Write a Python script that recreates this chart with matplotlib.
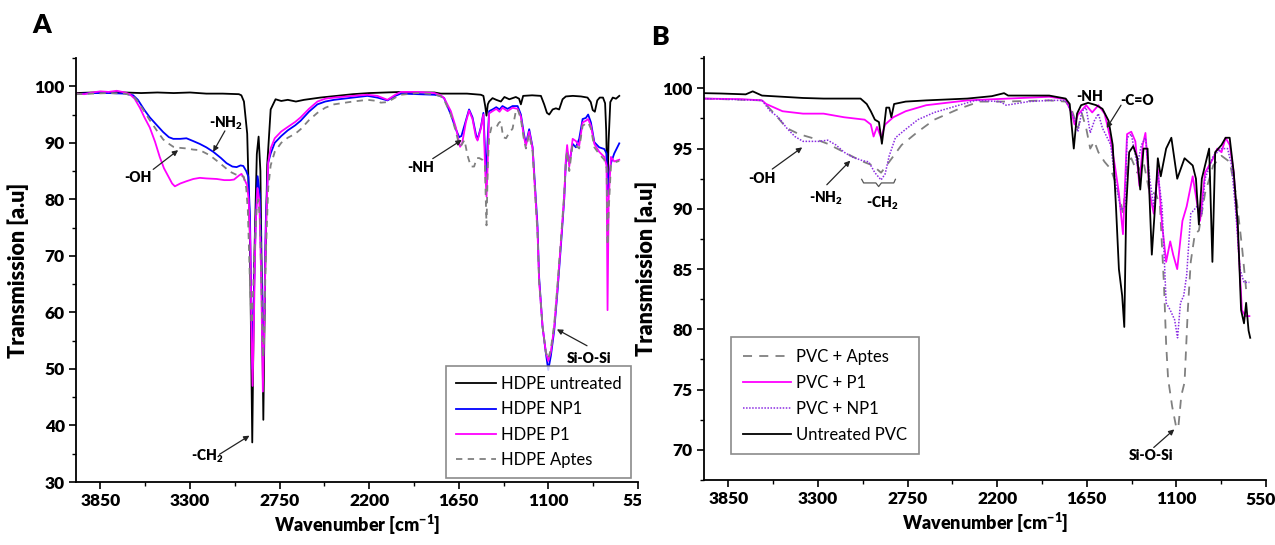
import matplotlib
matplotlib.use('Agg')
import matplotlib.pyplot as plt
from matplotlib.ticker import MultipleLocator, FuncFormatter
from matplotlib.patches import Rectangle

plt.rcParams['font.family'] = ['Lato', 'DejaVu Sans']
plt.rcParams['font.weight'] = 'heavy'
plt.rcParams['axes.labelweight'] = 'heavy'
plt.rcParams['mathtext.fontset'] = 'custom'
plt.rcParams['mathtext.bf'] = 'Lato:heavy'
plt.rcParams['mathtext.rm'] = 'Lato:heavy'
plt.rcParams['mathtext.default'] = 'bf'

# ---------------- Panel A: HDPE ----------------
hdpe_untreated_wn = [4000, 3900, 3800, 3701, 3600, 3500, 3400, 3300, 3200, 3100, 3000, 2985, 2969, 2949, 2933,
                     2918, 2905, 2890, 2879, 2868, 2858, 2850, 2840, 2826, 2805, 2775, 2740, 2700, 2650, 2600,
                     2500, 2400, 2300, 2200, 2100, 2000, 1900, 1800, 1761, 1600, 1515, 1499, 1488, 1480, 1472,
                     1464, 1443, 1420, 1392, 1370, 1340, 1300, 1280, 1269, 1255, 1200, 1146, 1126, 1109, 1095,
                     1074, 1054, 1034, 1013, 993, 950, 900, 860, 840, 828, 815, 800, 785, 765, 752, 745, 738,
                     731, 720, 705, 685, 665]
hdpe_untreated_t = [98.8, 98.9, 99.0, 98.9, 98.8, 98.9, 98.8, 98.9, 98.7, 98.7, 98.6, 98.4, 97.3, 91.6, 74.3,
                    37.0, 70.0, 88.0, 91.1, 85.0, 62.0, 41.0, 65.0, 86.1, 95.9, 97.7, 97.4, 97.6, 97.3, 97.6,
                    98.0, 98.3, 98.6, 98.8, 98.9, 99.0, 98.9, 98.9, 98.7, 98.7, 98.5, 98.3, 96.5, 94.8, 96.8,
                    97.3, 97.9, 97.6, 97.3, 98.1, 97.7, 98.1, 97.8, 96.8, 98.3, 98.4, 98.3, 96.8, 95.3, 95.0,
                    95.9, 96.1, 95.9, 97.7, 98.2, 98.3, 98.2, 98.0, 97.2, 95.8, 95.5, 97.5, 98.0, 98.0, 97.0,
                    92.0, 81.0, 90.0, 97.2, 98.0, 97.8, 98.3]

hdpe_np1_wn = [4000, 3900, 3800, 3700, 3649, 3620, 3580, 3547, 3500, 3465, 3430, 3403, 3360, 3322, 3280, 3240,
               3200, 3157, 3110, 3076, 3040, 3014, 2990, 2973, 2955, 2942, 2932, 2924, 2918, 2910, 2897, 2885,
               2872, 2862, 2852, 2845, 2835, 2820, 2805, 2780, 2740, 2700, 2654, 2621, 2570, 2518, 2470, 2416,
               2300, 2211, 2150, 2088, 2040, 2006, 1900, 1800, 1761, 1740, 1699, 1668, 1648, 1634, 1607, 1587,
               1566, 1545, 1535, 1515, 1499, 1488, 1480, 1474, 1464, 1443, 1420, 1400, 1382, 1351, 1320, 1289,
               1269, 1250, 1238, 1218, 1197, 1187, 1167, 1157, 1136, 1116, 1101, 1085, 1064, 1044, 1023, 1003,
               993, 985, 972, 951, 931, 911, 890, 870, 856, 839, 818, 788, 757, 743, 737, 730, 716, 696, 665]
hdpe_np1_t = [98.6, 98.8, 98.8, 98.7, 98.4, 97.6, 95.8, 94.5, 93.0, 91.9, 91.0, 90.7, 90.7, 90.8, 90.3, 89.8,
              89.2, 88.4, 87.3, 86.4, 85.8, 85.7, 86.0, 85.9, 85.0, 84.0, 77.0, 62.0, 50.0, 60.0, 76.0, 84.1,
              81.0, 68.0, 50.0, 58.0, 76.0, 86.5, 88.1, 90.0, 91.2, 92.2, 93.1, 93.9, 95.5, 96.8, 97.3, 97.6,
              98.0, 98.3, 98.0, 97.5, 98.3, 98.7, 98.6, 98.5, 98.3, 97.9, 95.0, 92.4, 91.0, 91.2, 93.9, 95.9,
              94.5, 91.5, 90.6, 92.7, 95.3, 88.0, 84.0, 90.0, 95.6, 95.9, 96.3, 95.9, 96.5, 96.0, 96.5, 96.5,
              95.0, 91.5, 89.8, 92.4, 89.2, 84.6, 75.4, 66.2, 57.5, 52.9, 49.8, 52.3, 56.9, 63.8, 71.9, 80.0,
              86.5, 88.5, 86.4, 89.8, 89.2, 90.7, 94.2, 94.4, 95.0, 93.6, 90.1, 89.2, 88.9, 88.1, 80.6, 84.0,
              86.4, 88.1, 89.9]

hdpe_p1_wn = [4000, 3950, 3900, 3850, 3800, 3750, 3700, 3670, 3640, 3608, 3580, 3547, 3515, 3486, 3460, 3434,
              3410, 3393, 3360, 3322, 3280, 3240, 3200, 3136, 3090, 3055, 3030, 3000, 2984, 2970, 2950, 2940,
              2930, 2922, 2916, 2910, 2898, 2886, 2875, 2863, 2853, 2846, 2835, 2820, 2805, 2780, 2740, 2700,
              2654, 2621, 2570, 2518, 2470, 2416, 2300, 2211, 2150, 2088, 2040, 2006, 1900, 1800, 1761, 1740,
              1699, 1668, 1642, 1630, 1607, 1587, 1566, 1545, 1535, 1515, 1499, 1488, 1480, 1474, 1464, 1443,
              1420, 1400, 1382, 1351, 1320, 1289, 1269, 1250, 1238, 1218, 1197, 1187, 1167, 1157, 1136, 1116,
              1101, 1085, 1064, 1044, 1023, 1003, 993, 985, 972, 951, 931, 911, 890, 870, 856, 839, 818, 788,
              757, 743, 737, 730, 716, 696, 665]
hdpe_p1_t = [98.7, 98.6, 98.9, 99.1, 99.0, 99.2, 98.9, 98.6, 97.8, 96.2, 94.5, 92.7, 90.2, 87.5, 85.5, 84.1,
             82.8, 82.3, 82.8, 83.2, 83.6, 83.8, 83.7, 83.6, 83.4, 83.4, 83.5, 84.2, 84.5, 83.8, 82.5, 80.0,
             72.0, 55.0, 47.0, 55.0, 75.0, 82.0, 80.0, 66.0, 46.0, 55.0, 74.0, 86.5, 89.0, 90.8, 92.0, 92.8,
             93.7, 94.5, 96.0, 97.3, 97.8, 98.0, 98.3, 98.5, 98.3, 97.6, 98.5, 99.0, 99.0, 98.8, 98.4, 97.9,
             95.6, 92.7, 89.3, 89.8, 93.6, 95.7, 94.2, 91.0, 90.4, 92.5, 95.0, 85.0, 80.5, 85.0, 95.2, 95.6,
             96.0, 95.5, 96.2, 95.6, 96.2, 96.0, 94.6, 91.0, 89.5, 92.0, 89.0, 84.0, 74.5, 65.5, 57.5, 53.0,
             51.4, 53.0, 57.5, 64.5, 72.5, 80.5, 87.0, 89.6, 85.8, 90.7, 90.3, 89.5, 93.6, 93.9, 94.2, 93.0,
             89.8, 88.4, 87.5, 86.0, 60.4, 80.0, 87.5, 86.7, 87.0]

hdpe_aptes_wn = [4000, 3900, 3800, 3700, 3649, 3620, 3580, 3547, 3500, 3465, 3444, 3403, 3360, 3322, 3280, 3240,
                 3179, 3117, 3055, 3020, 2994, 2970, 2955, 2945, 2932, 2922, 2915, 2905, 2890, 2880, 2870, 2860,
                 2852, 2845, 2835, 2820, 2805, 2780, 2740, 2700, 2654, 2621, 2570, 2518, 2470, 2416, 2300, 2211,
                 2150, 2129, 2088, 2040, 2006, 1900, 1800, 1761, 1740, 1699, 1668, 1648, 1634, 1615, 1597, 1576,
                 1556, 1540, 1525, 1505, 1490, 1480, 1472, 1464, 1450, 1420, 1405, 1392, 1378, 1360, 1340, 1320,
                 1300, 1289, 1269, 1250, 1238, 1218, 1197, 1187, 1167, 1157, 1136, 1116, 1101, 1085, 1064, 1044,
                 1023, 1003, 993, 985, 972, 951, 931, 911, 890, 870, 856, 839, 818, 788, 757, 743, 737, 730, 716,
                 696, 665]
hdpe_aptes_t = [98.6, 98.7, 98.8, 98.7, 98.3, 97.3, 95.5, 94.0, 92.0, 90.6, 90.1, 89.3, 89.1, 89.0, 88.8, 88.7,
                87.8, 86.4, 84.9, 84.4, 84.3, 84.0, 82.0, 78.0, 65.0, 58.0, 62.0, 70.0, 79.0, 80.0, 76.0, 62.0,
                52.0, 56.0, 70.0, 82.0, 86.0, 88.4, 90.0, 90.9, 91.6, 92.4, 94.0, 95.3, 96.2, 96.8, 97.3, 97.6,
                97.4, 97.1, 97.2, 98.0, 98.5, 98.8, 98.6, 98.2, 97.6, 95.0, 92.0, 89.6, 89.6, 90.5, 87.8, 85.8,
                85.8, 87.3, 87.3, 87.0, 86.0, 75.4, 86.0, 91.0, 92.7, 92.7, 93.5, 93.8, 91.0, 90.8, 91.8, 92.5,
                95.6, 96.0, 94.2, 90.5, 89.0, 91.5, 88.5, 83.5, 74.0, 65.5, 57.5, 53.0, 51.8, 53.5, 58.0, 65.0,
                73.0, 81.0, 86.5, 88.5, 85.0, 89.8, 89.5, 89.0, 93.0, 93.4, 93.6, 92.5, 89.2, 88.0, 87.0, 85.5,
                71.9, 78.0, 86.0, 86.5, 86.8]

# ---------------- Panel B: PVC ----------------
pvc_aptes_wn = [4000, 3644, 3568, 3492, 3417, 3341, 3241, 3140, 3039, 2964, 2913, 2863, 2787, 2687, 2586, 2435,
                2309, 2158, 1881, 1780, 1742, 1705, 1680, 1654, 1629, 1604, 1579, 1541, 1503, 1466, 1428, 1403,
                1377, 1340, 1302, 1264, 1226, 1201, 1176, 1163, 1151, 1126, 1100, 1088, 1070, 1050, 1030, 1012,
                987, 962, 924, 874, 823, 773, 735, 697, 672, 652]
pvc_aptes_t = [99.15, 99.0, 97.9, 96.7, 96.2, 95.9, 95.4, 94.7, 94.0, 93.6, 93.0, 93.9, 95.3, 96.4, 97.4, 98.3,
               98.9, 98.9, 99.0, 98.9, 98.2, 96.7, 97.9, 96.7, 95.0, 95.6, 94.7, 93.9, 93.3, 91.9, 89.6, 93.6,
               94.2, 93.0, 93.9, 91.3, 91.3, 90.2, 83.6, 78.8, 75.9, 73.6, 71.8, 71.9, 74.5, 75.6, 81.6, 85.6,
               87.9, 88.2, 91.3, 93.6, 94.4, 93.9, 91.3, 86.8, 83.3, 83.6]

pvc_p1_wn = [4000, 3769, 3644, 3618, 3518, 3392, 3266, 3140, 3014, 2976, 2959, 2938, 2913, 2888, 2838, 2762,
             2636, 2384, 2133, 1881, 1780, 1742, 1725, 1705, 1654, 1617, 1579, 1541, 1508, 1478, 1453, 1428,
             1403, 1377, 1352, 1327, 1307, 1290, 1264, 1239, 1214, 1188, 1163, 1138, 1120, 1095, 1063, 1037,
             1000, 970, 955, 924, 874, 849, 823, 798, 773, 748, 723, 698, 677, 652]
pvc_p1_t = [99.15, 99.1, 99.0, 98.7, 98.1, 97.9, 97.9, 97.6, 97.4, 97.0, 96.0, 96.8, 95.9, 97.0, 97.6, 98.1,
            98.6, 99.0, 99.15, 99.3, 99.1, 97.9, 97.0, 97.8, 98.6, 98.0, 98.6, 97.9, 96.0, 93.6, 91.3, 87.9,
            96.2, 96.4, 95.6, 91.9, 95.3, 96.3, 91.3, 89.6, 93.3, 88.7, 85.6, 87.3, 86.2, 85.0, 89.0, 90.2,
            92.7, 90.2, 89.0, 93.0, 94.2, 95.0, 94.7, 95.9, 95.3, 93.0, 87.9, 81.6, 81.1, 81.1]

pvc_np1_wn = [4000, 3644, 3593, 3543, 3492, 3442, 3392, 3291, 3241, 3190, 3140, 3090, 3027, 2989, 2951, 2913,
              2888, 2863, 2825, 2762, 2687, 2586, 2485, 2334, 2183, 2145, 2007, 1881, 1780, 1730, 1705, 1680,
              1654, 1629, 1604, 1579, 1554, 1528, 1503, 1478, 1440, 1415, 1403, 1377, 1340, 1315, 1290, 1264,
              1239, 1214, 1188, 1163, 1138, 1111, 1093, 1075, 1055, 1037, 1012, 974, 944, 924, 874, 823, 786,
              761, 735, 710, 685, 652]
pvc_np1_t = [99.15, 99.0, 98.1, 97.6, 96.7, 96.0, 95.6, 95.6, 95.7, 95.3, 94.7, 94.3, 94.0, 93.9, 93.0, 92.4,
             92.9, 94.4, 95.9, 96.6, 97.4, 98.0, 98.4, 99.0, 98.9, 98.6, 98.9, 99.0, 99.0, 97.6, 96.4, 98.1,
             98.4, 96.3, 97.3, 97.9, 96.7, 96.0, 95.3, 92.5, 89.9, 90.2, 95.9, 96.2, 93.6, 95.3, 95.9, 92.5,
             90.2, 93.0, 90.2, 82.2, 81.6, 80.8, 79.3, 82.2, 82.8, 84.5, 89.6, 90.2, 89.6, 92.5, 94.4, 95.0,
             95.0, 93.6, 89.6, 85.0, 83.9, 83.9]

pvc_untreated_wn = [4000, 3895, 3744, 3701, 3644, 3392, 3266, 3039, 3001, 2976, 2951, 2926, 2908, 2893, 2881,
                    2863, 2850, 2833, 2762, 2636, 2384, 2233, 2158, 2133, 1881, 1780, 1755, 1730, 1710, 1685,
                    1642, 1592, 1554, 1516, 1491, 1471, 1453, 1433, 1420, 1408, 1390, 1365, 1340, 1322, 1302,
                    1277, 1251, 1231, 1214, 1196, 1163, 1131, 1095, 1050, 1000, 980, 962, 944, 899, 879, 862,
                    823, 798, 773, 748, 723, 703, 685, 672, 657, 647]
pvc_untreated_t = [99.6, 99.57, 99.5, 99.75, 99.4, 99.2, 99.15, 99.15, 98.7, 98.1, 97.4, 97.2, 95.4, 97.0, 98.4,
                   98.4, 97.6, 98.7, 98.9, 99.0, 99.15, 99.35, 99.6, 99.4, 99.4, 99.15, 98.7, 95.0, 97.9, 98.6,
                   98.8, 98.6, 98.3, 97.3, 95.3, 90.2, 85.0, 82.8, 80.2, 90.2, 94.7, 95.2, 94.2, 91.6, 95.0,
                   95.0, 86.2, 90.2, 94.2, 92.7, 95.0, 95.9, 92.5, 94.2, 93.6, 92.5, 88.7, 92.5, 95.0, 85.6,
                   94.7, 95.3, 95.9, 95.9, 93.0, 88.7, 81.6, 80.5, 82.2, 79.9, 79.3]

W, H = 1275, 545
fig = plt.figure(figsize=(W / 100, H / 100), dpi=100)


def style_axes(ax, ymaj, ymin):
    for s in ['top', 'right']:
        ax.spines[s].set_visible(False)
    for s in ['left', 'bottom']:
        ax.spines[s].set_linewidth(1.3)
    ax.set_xlim(4000, 550)
    ax.xaxis.set_major_locator(MultipleLocator(550))
    ax.xaxis.set_minor_locator(MultipleLocator(275))
    ax.yaxis.set_major_locator(MultipleLocator(ymaj))
    ax.yaxis.set_minor_locator(MultipleLocator(ymin))
    ax.tick_params(which='major', direction='out', length=5, width=1.2, labelsize=12.5, pad=3)
    ax.tick_params(which='minor', direction='out', length=3, width=1.0)
    ax.set_xlabel('Wavenumber [cm$^{-1}$]', fontsize=13, fontweight='heavy', labelpad=3)
    ax.set_ylabel('Transmission [a.u]', fontsize=15.5, fontweight='heavy', labelpad=4)


def add_notes(ax, notes):
    for txt, pos, tail, head in notes:
        ax.text(*pos, txt, fontsize=10, ha='center', va='center')
        if tail is not None:
            ax.annotate('', xy=head, xytext=tail,
                        arrowprops=dict(arrowstyle='-|>', color='#222222', lw=0.9, mutation_scale=8,
                                        shrinkA=0, shrinkB=0))


leg_font = {'weight': 'normal', 'size': 12}

# ---- Panel A ----
axA = fig.add_axes([76 / W, 1 - 482 / H, 562 / W, 424 / H])
axA.plot(hdpe_untreated_wn, hdpe_untreated_t, color='black', lw=1.3, label='HDPE untreated')
axA.plot(hdpe_np1_wn, hdpe_np1_t, color='#0000FF', lw=1.3, label='HDPE NP1')
axA.plot(hdpe_p1_wn, hdpe_p1_t, color='#FF00FF', lw=1.3, label='HDPE P1')
axA.plot(hdpe_aptes_wn, hdpe_aptes_t, color='#808080', lw=1.3, ls=(0, (3.5, 3)), label='HDPE Aptes')
axA.set_ylim(30, 105)
style_axes(axA, 10, 5)
legA = axA.legend(loc='lower right', bbox_to_anchor=(0.988, 0.01), borderaxespad=0, fancybox=False,
                  edgecolor='#6e6e6e', prop=leg_font, handlelength=2.4, labelspacing=0.55,
                  handletextpad=0.3, borderpad=0.6)
legA.get_frame().set_linewidth(1.2)

add_notes(axA, [
    ('-OH', (3617, 83.9), (3526, 85.3), (3373, 88.7)),
    ('-NH$_2$', (3076, 93.4), (3086, 92.1), (3158, 88.4)),
    ('-CH$_2$', (3192, 34.6), (3119, 34.9), (2935, 38.2)),
    ('-NH', (1884, 85.6), (1810, 87.2), (1632, 90.5)),
    ('Si-O-Si', (851, 51.8), (863, 54.1), (1048, 57.0)),
])

# ---- Panel B ----
axB = fig.add_axes([704 / W, 1 - 480 / H, 562 / W, 423 / H])
axB.plot(pvc_aptes_wn, pvc_aptes_t, color='#808080', lw=1.3, ls=(0, (5, 4)), label='PVC + Aptes')
axB.plot(pvc_p1_wn, pvc_p1_t, color='#FF00FF', lw=1.3, label='PVC + P1')
axB.plot(pvc_np1_wn, pvc_np1_t, color='#8A2BE2', lw=1.1, ls=(0, (1, 1)), label='PVC + NP1')
axB.plot(pvc_untreated_wn, pvc_untreated_t, color='black', lw=1.3, label='Untreated PVC')
axB.set_ylim(67.5, 102.6)
style_axes(axB, 5, 2.5)
# last x label sits left of its tick in the original, so it stays inside the figure
axB.xaxis.set_major_formatter(FuncFormatter(lambda v, p: '' if v <= 551 else f'{v:.0f}'))
axB.annotate('550', xy=(550, 0), xycoords=('data', 'axes fraction'), xytext=(7, -8.5),
             textcoords='offset points', ha='right', va='top', fontsize=12.5)
legB = axB.legend(loc='lower left', bbox_to_anchor=(0.048, 0.061), borderaxespad=0, fancybox=False,
                  edgecolor='#6e6e6e', prop=leg_font, handlelength=2.9, labelspacing=0.6,
                  handletextpad=0.3, borderpad=0.7)
legB.get_frame().set_linewidth(1.2)

add_notes(axB, [
    ('-OH', (3644, 92.5), (3581, 93.3), (3397, 95.1)),
    ('-NH$_2$', (3253, 90.9), (3246, 92.0), (3102, 94.0)),
    ('-C=O', (1340, 99.0), (1440, 98.6), (1528, 96.7)),
    ('Si-O-Si', (1256, 69.5), (1239, 70.2), (1113, 71.7)),
    ('-NH', (1634, 99.35), None, None),
    ('-CH$_2$', (2906, 90.5), None, None),
])
# curly brace under the CH2 band
brace_wn = [3032, 3020, 2945, 2928, 2911, 2835, 2825]
brace_t = [92.45, 92.15, 92.15, 91.85, 92.15, 92.15, 92.45]
axB.plot(brace_wn, brace_t, color='#555555', lw=0.9)

# panel letters
fig.text(42 / W, 1 - 25 / H, 'A', fontsize=19, ha='center', va='center')
fig.text(660 / W, 1 - 37 / H, 'B', fontsize=19, ha='center', va='center')

# panel A's last tick label is clipped in the original composite
fig.patches.append(Rectangle((641 / W, (H - 512) / H), 22 / W, 26 / H, transform=fig.transFigure,
                             facecolor='white', edgecolor='none', zorder=10))

fig.savefig('out.png', dpi=100)
